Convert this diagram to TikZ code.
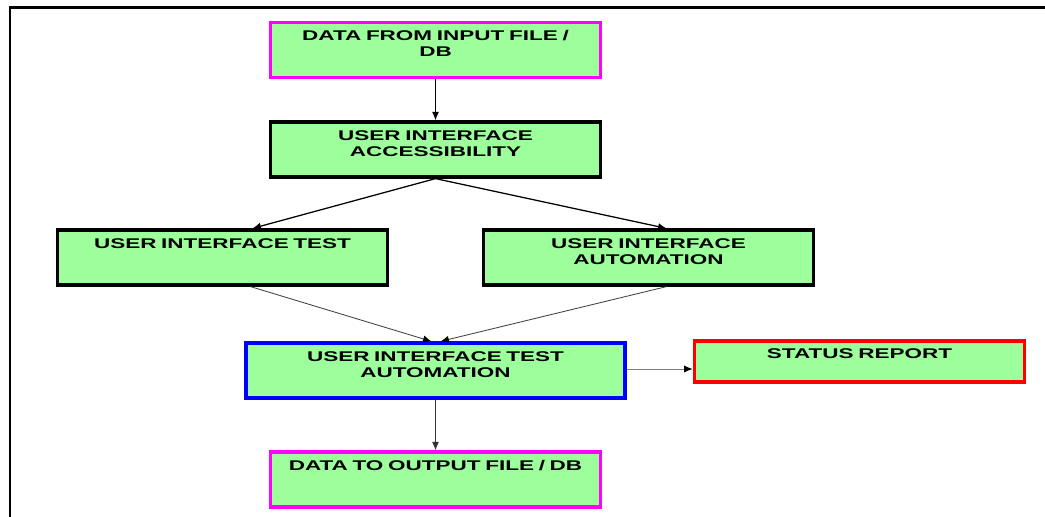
\documentclass[tikz,border=0pt]{standalone}
\usepackage{fontspec}
\setmainfont{Liberation Sans}
\newfontfamily\boxfont[FakeStretch=1.6]{Liberation Sans}
\usepackage{tikz}
\usetikzlibrary{arrows,arrows.meta,calc,positioning}
\definecolor{boxgreen}{HTML}{9CFF9C}
\definecolor{pinkline}{HTML}{FF00FF}
\definecolor{blueline}{HTML}{0000FF}
\definecolor{redline}{HTML}{FF0000}
\definecolor{lightline}{HTML}{808080}

\begin{document}
\begin{tikzpicture}[x=0.025cm,y=-0.025cm,
  blok/.style={rectangle,fill=boxgreen,line width=2.3pt,inner sep=0pt,
    text width=235pt,align=center,text height=13pt,text depth=26.1pt,
    font=\boxfont\bfseries\fontsize{10}{11.5}\selectfont},
  wide/.style={text width=269.6pt},
  low/.style={text height=12.8pt,text depth=16.4pt},
  con/.style={-{Latex[length=6pt,width=5pt]},line width=0.9pt},
  thin/.style={-{Latex[length=6pt,width=5pt,color=black]},line width=0.6pt,draw=black!75}]
\useasboundingbox (0,0) rectangle (1045,517);
% frame round the figure
\draw[line width=1.5pt] (10,517) -- (10,7.5) -- (1045,7.5);

\node[blok,draw=pinkline] (inp) at (435.5,50) {DATA FROM INPUT FILE /\\DB};
\node[blok,draw=black] (acc) at (435.5,149.5) {USER INTERFACE\\ACCESSIBILITY};
\node[blok,draw=black] (uit) at (222.5,257.5) {USER INTERFACE TEST};
\node[blok,draw=black] (uia) at (648.5,257.5) {USER INTERFACE\\AUTOMATION};
\node[blok,wide,draw=blueline] (uta) at (435.5,370.5) {USER INTERFACE TEST\\AUTOMATION};
\node[blok,low,draw=redline] (rep) at (859.5,361.5) {STATUS REPORT};
\node[blok,draw=pinkline] (outp) at (435.5,479.5) {DATA TO OUTPUT FILE / DB};

\coordinate (s) at ($(uta.east)+(0,-1.5)$);

\draw[con] (inp) -- (acc);
\draw[con] (acc.south) -- ($(uit.north)+(30,0)$);
\draw[con] (acc.south) -- ($(uia.north)+(18,0)$);
\draw[thin] ($(uit.south)+(28,0)$) -- ($(uta.north)+(-4,0)$);
\draw[thin] ($(uia.south)+(18,0)$) -- ($(uta.north)+(5,0)$);
\draw[thin,draw=lightline] (s) -- (s -| rep.west);
\draw[con,draw=black!80] (uta) -- (outp);
\end{tikzpicture}
\end{document}
